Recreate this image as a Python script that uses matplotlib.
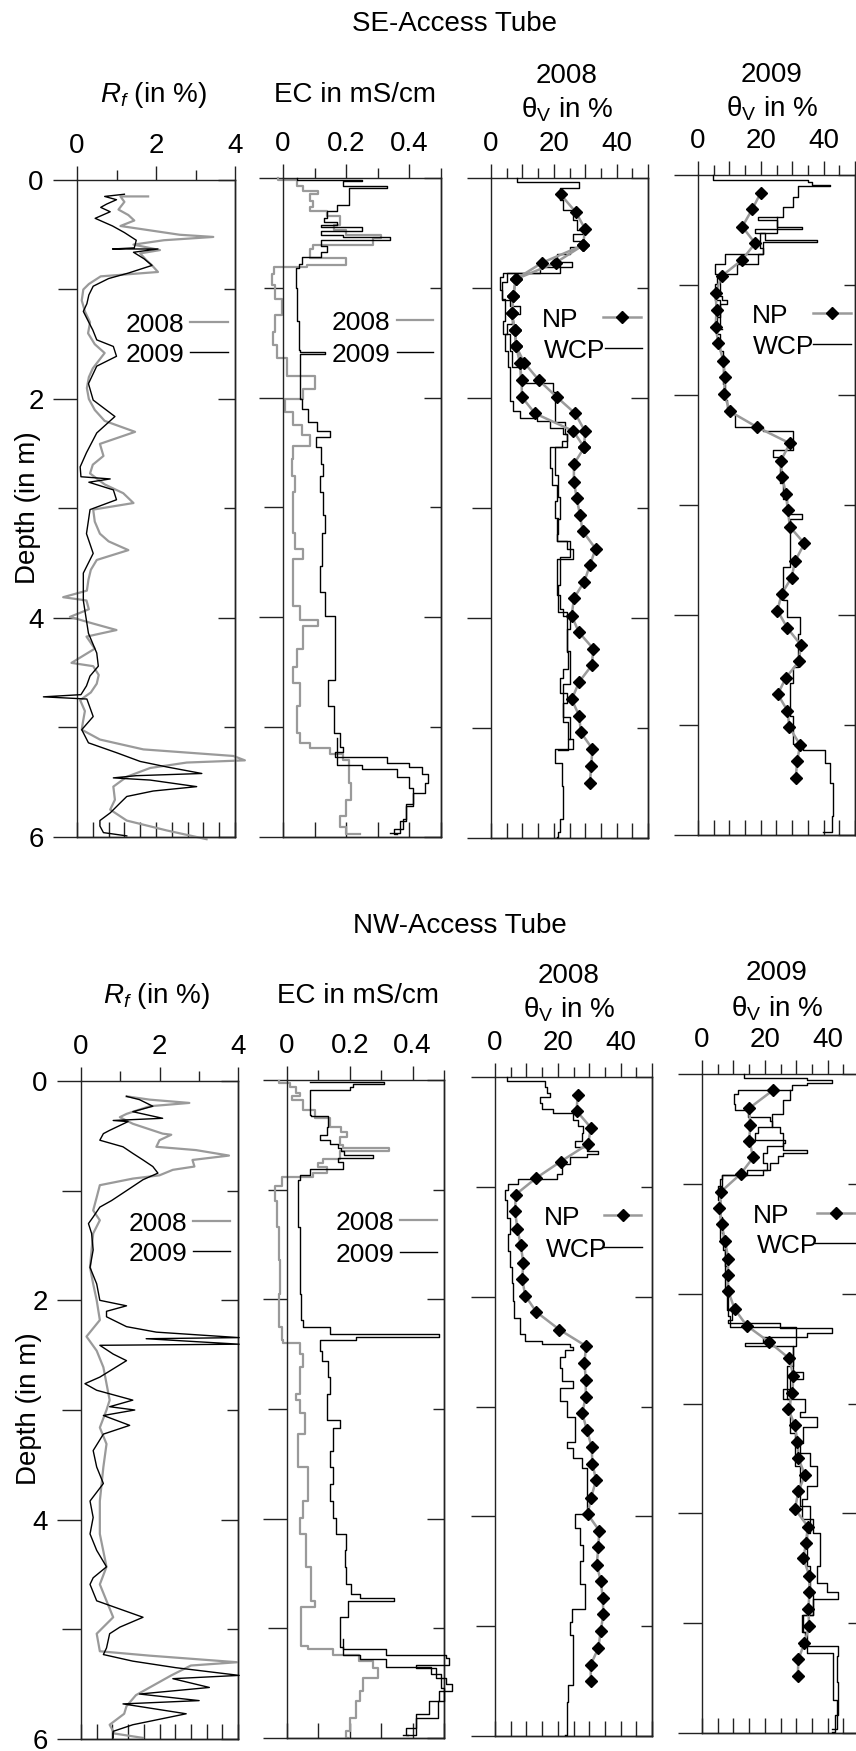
import matplotlib
matplotlib.use("Agg")
import matplotlib.pyplot as plt
from matplotlib.lines import Line2D
import numpy as np

plt.rcParams['font.family'] = ['Liberation Sans', 'DejaVu Sans']
plt.rcParams['mathtext.fontset'] = 'custom'
plt.rcParams['mathtext.rm'] = 'Liberation Sans'
plt.rcParams['mathtext.it'] = 'Liberation Sans:italic'

W, H = 856, 1751
GRAY = '#9a9a9a'

# ---------------- data: (depth in m, value) ----------------
# SE access tube
SE_RF_2008 = [(0.15, 1.80), (0.15, 1.10), (0.20, 1.20), (0.27, 1.05), (0.32, 1.30), (0.37, 1.45), (0.42, 1.10),
              (0.46, 1.85), (0.50, 2.60), (0.52, 3.45), (0.55, 2.20), (0.59, 1.43), (0.64, 2.10), (0.67, 1.60),
              (0.73, 1.75), (0.78, 1.90), (0.84, 2.05), (0.88, 0.60), (0.95, 0.30), (1.00, 0.16), (1.10, 0.12),
              (1.20, 0.20), (1.30, 0.33), (1.40, 0.28), (1.50, 0.45), (1.58, 0.70), (1.65, 0.55), (1.72, 0.40),
              (1.80, 0.30), (1.90, 0.25), (2.00, 0.30), (2.10, 0.45), (2.20, 0.70), (2.30, 1.47), (2.41, 0.58),
              (2.52, 0.67), (2.60, 0.40), (2.68, 0.33), (2.78, 0.70), (2.86, 1.17), (2.95, 1.43), (3.01, 0.41),
              (3.12, 0.45), (3.23, 0.58), (3.30, 0.80), (3.38, 1.30), (3.47, 0.50), (3.56, 0.35), (3.65, 0.29),
              (3.75, 0.25), (3.81, -0.35), (3.84, 0.24), (3.92, 0.30), (3.99, -0.18), (4.05, 0.40), (4.11, 1.00),
              (4.17, 0.24), (4.28, 0.45), (4.41, -0.14), (4.44, 0.41), (4.52, 0.55), (4.60, 0.50), (4.68, 0.35),
              (4.75, 0.08), (4.85, 0.20), (4.95, 0.15), (5.02, 0.12), (5.11, 0.58), (5.20, 1.68), (5.26, 3.96),
              (5.30, 4.25), (5.32, 2.78), (5.37, 1.85), (5.45, 1.26), (5.54, 0.92), (5.66, 0.96), (5.75, 0.84),
              (5.85, 1.26), (5.94, 2.27), (6.02, 3.28)]
SE_RF_2009 = [(0.13, 1.20), (0.15, 0.70), (0.18, 1.00), (0.22, 0.75), (0.25, 0.60), (0.29, 0.84), (0.35, 0.46),
              (0.42, 0.90), (0.48, 1.20), (0.55, 1.50), (0.62, 1.45), (0.63, 0.90), (0.63, 2.05), (0.66, 1.43),
              (0.72, 1.70), (0.78, 1.90), (0.85, 1.30), (0.90, 0.80), (0.97, 0.41), (1.05, 0.30), (1.13, 0.25),
              (1.20, 0.16), (1.30, 0.30), (1.37, 0.40), (1.46, 0.50), (1.52, 0.92), (1.61, 1.00), (1.70, 0.50),
              (1.86, 0.29), (2.01, 0.41), (2.16, 0.96), (2.31, 0.50), (2.49, 0.24), (2.62, 0.08), (2.71, 0.10),
              (2.73, 0.84), (2.76, 0.30), (2.83, 0.92), (2.92, 1.00), (3.01, 0.33), (3.23, 0.24), (3.41, 0.41),
              (3.59, 0.16), (3.84, 0.16), (4.14, 0.29), (4.32, 0.50), (4.44, 0.54), (4.53, 0.33), (4.62, 0.24),
              (4.70, 0.10), (4.72, -0.85), (4.74, 0.25), (4.90, 0.41), (5.02, 0.12), (5.14, 0.29), (5.23, 1.00),
              (5.31, 1.60), (5.36, 2.27), (5.42, 3.16), (5.44, 1.50), (5.46, 0.92), (5.48, 1.85), (5.54, 3.03),
              (5.58, 1.93), (5.63, 1.26), (5.69, 1.09), (5.78, 0.84), (5.85, 0.58), (5.90, 0.58), (5.96, 0.67),
              (5.99, 1.26)]
SE_EC_2008 = [(0.00, -0.015), (0.015, 0.043), (0.076, 0.064), (0.12, 0.11), (0.15, 0.085), (0.21, 0.096),
              (0.26, 0.085), (0.30, 0.138), (0.35, 0.18), (0.43, 0.16), (0.47, 0.20), (0.52, 0.31), (0.55, 0.286),
              (0.61, 0.096), (0.65, 0.085), (0.73, 0.20), (0.79, 0.075), (0.81, -0.03), (0.87, -0.036),
              (0.97, -0.025), (1.10, -0.004), (1.25, -0.025), (1.40, -0.031), (1.52, -0.02), (1.64, 0.012),
              (1.80, 0.10), (1.92, 0.064), (2.01, 0.006), (2.13, 0.033), (2.25, 0.059), (2.34, 0.085),
              (2.44, 0.033), (2.56, 0.027), (2.71, 0.038), (2.86, 0.033), (3.23, 0.038), (3.38, 0.064),
              (3.47, 0.033), (3.84, 0.033), (3.90, 0.054), (4.02, 0.11), (4.08, 0.064), (4.29, 0.043),
              (4.45, 0.033), (4.60, 0.054), (4.81, 0.043), (5.05, 0.054), (5.14, 0.085), (5.19, 0.149),
              (5.24, 0.19), (5.30, 0.21), (5.51, 0.215), (5.66, 0.20), (5.81, 0.18), (5.91, 0.20), (5.97, 0.244)]
SE_EC_2009 = [(0.00, 0.043), (0.02, 0.25), (0.03, 0.19), (0.07, 0.33), (0.09, 0.21), (0.22, 0.21), (0.25, 0.17),
              (0.30, 0.14), (0.36, 0.13), (0.40, 0.17), (0.43, 0.12), (0.45, 0.25), (0.48, 0.12), (0.52, 0.19),
              (0.54, 0.34), (0.56, 0.12), (0.62, 0.14), (0.67, 0.12), (0.72, 0.06), (0.78, 0.05), (0.82, 0.042),
              (1.00, 0.045), (1.30, 0.05), (1.57, 0.053), (1.585, 0.133), (1.60, 0.054), (1.80, 0.055),
              (2.01, 0.06), (2.10, 0.08), (2.22, 0.107), (2.30, 0.15), (2.36, 0.105), (2.45, 0.12), (2.60, 0.125),
              (2.71, 0.117), (2.86, 0.128), (3.07, 0.133), (3.23, 0.122), (3.53, 0.117), (3.77, 0.133),
              (3.99, 0.165), (4.29, 0.165), (4.57, 0.143), (4.81, 0.16), (5.05, 0.18), (5.18, 0.19),
              (5.23, 0.165), (5.27, 0.33), (5.33, 0.40), (5.36, 0.44), (5.43, 0.46), (5.51, 0.45), (5.60, 0.41),
              (5.72, 0.39), (5.84, 0.38), (5.93, 0.35), (5.97, 0.36)]
SE_EC_2009_B = [(5.10, 0.17), (5.30, 0.17), (5.34, 0.25), (5.38, 0.36), (5.45, 0.40), (5.55, 0.41),
                (5.70, 0.39), (5.85, 0.37), (5.96, 0.34)]

SE_NP_2008 = [(0.15, 22.2), (0.31, 27.0), (0.46, 29.9), (0.61, 29.4), (0.77, 20.6), (0.92, 7.9), (1.07, 7.1),
              (1.23, 6.6), (1.38, 7.6), (1.53, 8.0), (1.68, 10.6), (1.84, 15.3), (1.99, 20.9), (2.14, 26.8),
              (2.30, 29.9), (2.45, 29.7), (2.60, 26.4), (2.76, 26.4), (2.91, 27.3), (3.06, 28.3), (3.21, 29.2),
              (3.37, 33.3), (3.52, 31.5), (3.67, 29.7), (3.82, 26.4), (3.98, 25.7), (4.13, 28.0), (4.28, 32.6),
              (4.43, 32.1), (4.58, 28.1), (4.74, 25.7), (4.89, 28.1), (5.04, 28.6), (5.19, 32.3), (5.35, 31.9),
              (5.50, 31.5)]
SE_NP_2008_B = [(0.61, 29.4), (0.77, 16.3), (0.92, 7.9), (1.07, 7.1), (1.23, 6.6), (1.38, 7.6), (1.53, 8.0),
                (1.68, 9.2), (1.84, 9.8), (1.99, 9.8), (2.14, 14.0), (2.30, 26.2), (2.45, 29.7)]
SE_WCP_2008 = [(0.00, 8.4), (0.04, 28.1), (0.09, 22.0), (0.20, 23.0), (0.29, 26.2), (0.38, 27.3), (0.47, 29.4),
               (0.51, 26.2), (0.57, 29.9), (0.63, 25.2), (0.69, 20.9), (0.76, 25.7), (0.81, 15.6), (0.86, 3.9),
               (0.90, 2.9), (1.02, 3.4), (1.11, 6.1), (1.16, 9.2), (1.24, 6.6), (1.33, 5.0), (1.42, 4.5),
               (1.57, 5.5), (1.72, 6.1), (1.88, 6.1), (2.03, 7.1), (2.12, 9.2), (2.18, 14.5), (2.21, 18.8),
               (2.27, 23.0), (2.33, 24.1), (2.39, 22.5), (2.45, 18.8), (2.64, 19.3), (2.79, 20.9), (2.94, 20.4),
               (3.09, 21.4), (3.24, 20.9), (3.30, 24.1), (3.37, 26.2), (3.46, 20.9), (3.61, 20.9), (3.79, 22.0),
               (3.92, 23.0), (3.98, 25.2), (4.10, 24.1), (4.31, 24.6), (4.46, 23.0), (4.55, 22.0), (4.68, 24.1),
               (4.77, 23.0), (4.95, 24.6), (5.10, 26.2), (5.19, 20.4), (5.32, 22.5), (5.53, 23.0), (5.68, 23.0),
               (5.83, 22.0), (5.95, 21.4), (5.99, 20.9)]
SE_WCP_2008_B = [(0.80, 22.0), (0.86, 5.0), (0.95, 3.4), (1.10, 4.5), (1.30, 3.9), (1.42, 6.1), (1.57, 6.6),
                 (1.72, 9.2), (1.86, 19.9), (1.95, 20.4), (2.10, 20.4), (2.22, 23.6), (2.33, 24.1), (2.45, 20.4),
                 (2.70, 21.4), (2.90, 22.0), (3.10, 20.9), (3.30, 25.2), (3.45, 22.0), (3.70, 21.4), (3.95, 24.1),
                 (4.30, 25.2), (4.60, 23.0), (4.90, 25.2), (5.10, 24.6), (5.20, 21.4)]

SE_NP_2009 = [(0.16, 20.0), (0.31, 17.3), (0.47, 14.1), (0.62, 18.2), (0.77, 14.1), (0.92, 7.5), (1.07, 5.6),
              (1.23, 5.9), (1.38, 5.6), (1.53, 6.5), (1.69, 8.1), (1.84, 8.6), (1.99, 8.3), (2.15, 10.2),
              (2.29, 18.7), (2.44, 29.3), (2.60, 26.3), (2.75, 26.9), (2.90, 28.0), (3.05, 28.6), (3.20, 29.3),
              (3.35, 33.9), (3.51, 30.9), (3.66, 29.8), (3.81, 26.6), (3.96, 25.3), (4.12, 28.5), (4.27, 32.7),
              (4.42, 32.2), (4.57, 28.0), (4.72, 25.4), (4.87, 28.5), (5.02, 29.1), (5.18, 32.5), (5.33, 31.6),
              (5.48, 31.1)]
SE_WCP_2009 = [(0.00, 4.9), (0.046, 35.1), (0.06, 36.2), (0.09, 42.0), (0.10, 32.0), (0.20, 30.4), (0.29, 27.2),
               (0.38, 19.2), (0.41, 25.1), (0.47, 33.0), (0.49, 18.2), (0.53, 21.3), (0.59, 37.8), (0.61, 20.8),
               (0.72, 8.6), (0.81, 5.4), (0.90, 5.9), (0.99, 5.4), (1.14, 7.0), (1.29, 5.9), (1.45, 7.0),
               (1.60, 8.1), (1.75, 8.1), (1.90, 8.6), (2.05, 9.1), (2.17, 11.8), (2.29, 20.8), (2.33, 30.4),
               (2.44, 30.4), (2.50, 24.0), (2.56, 26.1), (2.80, 27.2), (2.95, 28.2), (3.08, 33.0), (3.13, 29.3),
               (3.41, 29.3), (3.56, 27.2), (3.86, 28.2), (4.02, 32.5), (4.17, 32.0), (4.47, 30.4), (4.62, 29.3),
               (4.92, 30.4), (5.17, 33.5), (5.23, 40.4), (5.35, 42.0), (5.53, 43.1), (5.83, 42.6), (5.97, 39.9)]
SE_WCP_2009_B = [(0.38, 25.1), (0.53, 19.7), (0.66, 20.8), (0.72, 19.2), (0.81, 12.3), (0.90, 7.0),
                 (1.10, 7.5), (1.14, 9.1), (1.17, 7.0), (1.40, 7.5)]

# NW access tube
NW_RF_2008 = [(0.14, 1.16), (0.17, 1.75), (0.20, 2.76), (0.23, 1.75), (0.30, 1.16), (0.33, 0.99), (0.39, 1.32),
              (0.48, 2.08), (0.49, 2.30), (0.54, 2.00), (0.60, 1.92), (0.63, 2.93), (0.68, 3.77), (0.72, 2.84),
              (0.78, 2.89), (0.81, 2.34), (0.86, 2.00), (0.89, 1.32), (0.95, 0.48), (1.06, 0.40), (1.18, 0.31),
              (1.27, 0.48), (1.39, 0.31), (1.54, 0.27), (1.70, 0.23), (1.85, 0.31), (2.00, 0.40), (2.18, 0.48),
              (2.33, 0.14), (2.46, 0.40), (2.61, 0.57), (2.91, 0.73), (3.00, 0.65), (3.16, 0.48), (3.31, 0.65),
              (3.52, 0.57), (3.83, 0.48), (4.13, 0.48), (4.43, 0.65), (4.59, 0.48), (4.74, 0.65), (4.89, 0.82),
              (5.04, 0.40), (5.20, 0.48), (5.24, 1.75), (5.30, 3.98), (5.33, 2.80), (5.42, 2.30), (5.50, 1.90),
              (5.60, 1.40), (5.70, 1.16), (5.77, 1.10), (5.87, 0.73), (5.95, 0.85), (5.99, 1.58)]
NW_RF_2009 = [(0.14, 1.16), (0.17, 1.49), (0.23, 1.83), (0.28, 1.32), (0.34, 2.08), (0.36, 0.82), (0.37, 1.20),
              (0.45, 0.73), (0.48, 0.57), (0.54, 0.48), (0.60, 1.07), (0.66, 1.32), (0.72, 1.58), (0.78, 1.83),
              (0.84, 1.96), (0.90, 1.58), (1.00, 1.16), (1.09, 0.78), (1.15, 0.48), (1.24, 0.31), (1.30, 0.19),
              (1.39, 0.27), (1.54, 0.31), (1.70, 0.23), (1.85, 0.40), (2.00, 0.48), (2.05, 1.16), (2.10, 0.65),
              (2.15, 0.65), (2.24, 1.16), (2.29, 1.92), (2.34, 4.03), (2.35, 1.66), (2.40, 4.03), (2.41, 0.48),
              (2.49, 0.82), (2.55, 1.16), (2.70, 0.48), (2.76, 0.10), (2.82, 0.40), (2.91, 1.32), (2.97, 0.73),
              (3.00, 1.37), (3.05, 0.57), (3.14, 1.24), (3.22, 0.57), (3.37, 0.31), (3.52, 0.40), (3.67, 0.57),
              (3.83, 0.23), (3.98, 0.31), (4.13, 0.23), (4.28, 0.40), (4.43, 0.65), (4.53, 0.31), (4.59, 0.23),
              (4.74, 0.40), (4.89, 1.58), (4.98, 0.99), (5.04, 0.73), (5.17, 0.65), (5.23, 0.57), (5.29, 1.32),
              (5.35, 2.42), (5.42, 4.03), (5.45, 2.34), (5.53, 3.27), (5.59, 1.49), (5.65, 3.01), (5.68, 1.07),
              (5.77, 2.68), (5.87, 1.32), (5.93, 0.82), (5.99, 0.82)]
NW_EC_2008 = [(0.006, -0.027), (0.03, 0.01), (0.06, 0.03), (0.12, 0.04), (0.15, 0.015), (0.18, 0.05),
              (0.27, 0.089), (0.35, 0.136), (0.43, 0.173), (0.47, 0.19), (0.52, 0.168), (0.59, 0.178),
              (0.62, 0.326), (0.65, 0.168), (0.72, 0.115), (0.76, 0.10), (0.79, 0.126), (0.85, 0.083),
              (0.88, -0.017), (0.97, -0.038), (1.10, -0.033), (1.34, -0.027), (1.64, -0.022), (1.95, -0.027),
              (2.25, -0.017), (2.37, -0.012), (2.40, 0.041), (2.50, 0.05), (2.62, 0.04), (2.86, 0.03),
              (2.92, 0.041), (3.04, 0.057), (3.23, 0.036), (3.53, 0.068), (3.84, 0.052), (3.99, 0.041),
              (4.14, 0.062), (4.44, 0.078), (4.75, 0.089), (4.81, 0.046), (5.05, 0.046), (5.16, 0.068),
              (5.19, 0.147), (5.24, 0.23), (5.30, 0.273), (5.36, 0.289), (5.45, 0.242), (5.57, 0.231),
              (5.66, 0.22), (5.82, 0.20), (5.94, 0.189), (6.00, 0.194)]
NW_EC_2009 = [(0.015, 0.073), (0.02, 0.31), (0.04, 0.21), (0.06, 0.20), (0.09, 0.073), (0.32, 0.078),
              (0.33, 0.13), (0.43, 0.126), (0.50, 0.104), (0.55, 0.136), (0.58, 0.162), (0.62, 0.173),
              (0.65, 0.18), (0.68, 0.273), (0.71, 0.162), (0.75, 0.178), (0.81, 0.073), (0.87, 0.041),
              (0.91, 0.036), (1.34, 0.041), (1.95, 0.046), (2.19, 0.052), (2.25, 0.136), (2.32, 0.484),
              (2.34, 0.22), (2.37, 0.104), (2.47, 0.11), (2.56, 0.13), (2.71, 0.136), (2.86, 0.126),
              (3.10, 0.168), (3.17, 0.147), (3.38, 0.136), (3.53, 0.147), (3.68, 0.136), (3.84, 0.147),
              (3.99, 0.157), (4.14, 0.189), (4.29, 0.184), (4.44, 0.189), (4.60, 0.205), (4.69, 0.231),
              (4.72, 0.342), (4.75, 0.194), (4.90, 0.168), (5.05, 0.168), (5.17, 0.178), (5.19, 0.315),
              (5.24, 0.505), (5.27, 0.516), (5.33, 0.41), (5.36, 0.474), (5.45, 0.505), (5.51, 0.526),
              (5.57, 0.484), (5.66, 0.453), (5.78, 0.41), (5.91, 0.379), (5.97, 0.384)]
NW_EC_2009_B = [(5.10, 0.178), (5.24, 0.231), (5.28, 0.315), (5.35, 0.46), (5.42, 0.49), (5.54, 0.50),
                (5.66, 0.48), (5.82, 0.41), (5.97, 0.368)]

NW_NP_2008 = [(0.16, 26.3), (0.31, 26.0), (0.46, 30.5), (0.61, 29.7), (0.77, 20.9), (0.92, 13.1), (1.07, 6.6),
              (1.22, 6.4), (1.38, 7.1), (1.53, 8.2), (1.69, 9.0), (1.84, 8.7), (1.99, 9.6), (2.14, 13.2),
              (2.30, 20.5), (2.45, 29.0), (2.60, 28.5), (2.76, 28.9), (2.91, 28.9), (3.06, 27.8), (3.21, 29.2),
              (3.37, 30.8), (3.52, 31.0), (3.67, 32.2), (3.83, 30.6), (3.98, 29.5), (4.13, 33.2), (4.28, 32.9),
              (4.44, 32.4), (4.59, 33.7), (4.74, 34.3), (4.89, 34.5), (5.04, 33.7), (5.20, 32.9), (5.35, 30.5),
              (5.50, 30.5)]
NW_WCP_2008 = [(0.00, 3.7), (0.04, 15.9), (0.09, 16.5), (0.15, 17.5), (0.18, 14.3), (0.24, 14.9), (0.29, 18.6),
               (0.33, 24.9), (0.39, 26.5), (0.45, 28.1), (0.51, 27.6), (0.58, 25.5), (0.64, 29.2), (0.67, 32.9),
               (0.70, 29.2), (0.73, 23.9), (0.79, 21.2), (0.88, 19.6), (0.93, 7.4), (0.97, 4.2), (1.03, 3.2),
               (1.12, 3.7), (1.28, 4.8), (1.43, 4.2), (1.58, 4.8), (1.73, 5.3), (1.88, 5.8), (2.04, 6.0),
               (2.19, 8.0), (2.34, 9.6), (2.40, 14.9), (2.43, 23.9), (2.46, 24.9), (2.49, 22.3), (2.55, 20.7),
               (2.65, 21.2), (2.77, 24.9), (2.83, 20.7), (2.95, 22.8), (3.10, 25.5), (3.32, 22.8), (3.38, 24.9),
               (3.47, 27.6), (3.56, 29.2), (3.86, 29.2), (3.98, 25.5), (4.11, 27.1), (4.26, 28.1), (4.41, 27.1),
               (4.62, 28.7), (4.78, 28.7), (4.84, 24.4), (4.96, 23.9), (5.08, 24.9), (5.39, 24.9), (5.54, 23.4),
               (5.69, 22.8), (5.84, 22.8), (5.99, 22.3)]

NW_NP_2009 = [(0.15, 22.5), (0.31, 15.1), (0.46, 15.3), (0.61, 15.1), (0.76, 16.3), (0.91, 12.3), (1.07, 6.1),
              (1.22, 5.5), (1.37, 6.3), (1.52, 7.3), (1.68, 8.4), (1.83, 8.2), (1.98, 8.4), (2.14, 10.4),
              (2.29, 14.2), (2.44, 21.4), (2.59, 27.8), (2.75, 29.1), (2.90, 28.8), (3.05, 27.5), (3.20, 29.6),
              (3.35, 30.4), (3.50, 30.7), (3.65, 32.8), (3.80, 30.7), (3.96, 29.6), (4.12, 33.7), (4.27, 33.1),
              (4.41, 32.3), (4.57, 34.2), (4.72, 34.2), (4.87, 33.9), (5.03, 34.1), (5.18, 32.6), (5.33, 30.7),
              (5.48, 30.5)]
NW_WCP_2009 = [(0.00, 13.5), (0.04, 33.3), (0.055, 41.3), (0.085, 33.3), (0.10, 28.6), (0.145, 11.6),
               (0.18, 10.2), (0.27, 10.5), (0.33, 14.8), (0.39, 21.7), (0.43, 22.2), (0.48, 17.9), (0.54, 16.9),
               (0.60, 26.4), (0.63, 25.9), (0.69, 33.3), (0.72, 25.9), (0.75, 24.3), (0.81, 21.7), (0.87, 19.5),
               (0.92, 6.3), (0.96, 5.7), (1.02, 5.2), (1.15, 5.7), (1.30, 6.3), (1.45, 6.8), (1.60, 7.3),
               (1.75, 7.9), (2.05, 7.9), (2.15, 9.4), (2.24, 8.4), (2.27, 24.8), (2.31, 41.3), (2.36, 33.3),
               (2.39, 19.5), (2.45, 13.7), (2.48, 29.1), (2.66, 29.1), (2.71, 32.3), (2.78, 28.0), (2.87, 25.9),
               (2.96, 32.8), (3.08, 31.2), (3.12, 36.5), (3.21, 32.3), (3.36, 31.2), (3.45, 34.4), (3.57, 36.5),
               (3.75, 33.3), (3.87, 31.7), (4.05, 35.5), (4.18, 37.6), (4.48, 36.5), (4.63, 39.7), (4.72, 43.4),
               (4.78, 35.5), (4.93, 31.7), (5.08, 32.8), (5.18, 31.2), (5.21, 43.4), (5.30, 42.9), (5.54, 43.4),
               (5.84, 42.4), (5.99, 41.3)]
NW_WCP_2009_B = [(0.145, 28.0), (0.24, 25.9), (0.36, 22.2), (0.48, 24.8), (0.54, 25.9), (0.66, 20.6),
                 (0.72, 19.5), (0.81, 20.6), (0.87, 14.2), (0.92, 6.3), (1.02, 5.8), (1.50, 7.3), (2.00, 8.4),
                 (2.20, 9.0), (2.30, 30.0), (2.48, 29.1), (2.66, 27.0), (2.96, 28.0), (3.27, 29.6), (3.57, 31.2),
                 (3.93, 34.4), (4.18, 33.3), (4.48, 34.4), (4.72, 35.5), (4.93, 32.3), (5.08, 33.3), (5.27, 41.8),
                 (5.70, 42.9), (5.96, 41.3)]

# axis tick settings per panel kind
RF_LIM, EC_LIM, TH_LIM = (0, 4), (0, 0.5), (0, 50)
RF_TOP, RF_TOP_MINOR, RF_TOP_LAB = [0, 2, 4], [1, 3], ['0', '2', '4']
EC_TOP, EC_TOP_MINOR, EC_TOP_LAB = [0, 0.2, 0.4], [0.1, 0.3, 0.5], ['0', '0.2', '0.4']
TH_TOP, TH_TOP_MINOR, TH_TOP_LAB = [0, 10, 20, 30, 40, 50], [5, 15, 25, 35, 45], ['0', '', '20', '', '40', '']
RF_BOT = [0, 0.4, 0.8, 1.2, 1.6, 2.0, 2.4, 2.8, 3.2, 3.6, 4.0]
EC_BOT = [0, 0.1, 0.2, 0.3, 0.4, 0.5]
TH_BOT = [0, 5, 10, 15, 20, 25, 30, 35, 40, 45, 50]


def fx(x):
    return x / W


def fy(y):
    return 1 - y / H


def xy(pairs):
    a = np.array(pairs, dtype=float)
    return a[:, 1], a[:, 0]


def make_ax(fig, left, right, top, bottom):
    return fig.add_axes([fx(left), fy(bottom), (right - left) / W, (bottom - top) / H])


def style_ax(ax, lim, top_major, top_minor, top_lab, bot_ticks, ylabels=False):
    ax.set_xlim(*lim)
    ax.set_ylim(6, 0)
    for s in ax.spines.values():
        s.set_linewidth(1.0)
        s.set_color('#222222')
    ax.xaxis.set_ticks_position('top')
    ax.set_xticks(top_major)
    ax.set_xticklabels(top_lab)
    ax.set_xticks(top_minor, minor=True)
    ax.tick_params(axis='x', which='both', direction='out', labelsize=20, pad=5, width=1, color='#222222')
    ax.tick_params(axis='x', which='major', length=10)
    ax.tick_params(axis='x', which='minor', length=7)
    ax.yaxis.set_ticks_position('left')
    ax.set_yticks([0, 2, 4, 6])
    ax.set_yticks([1, 3, 5], minor=True)
    ax.tick_params(axis='y', which='both', direction='out', labelsize=20, pad=7, width=1, color='#222222')
    ax.tick_params(axis='y', which='major', length=17)
    ax.tick_params(axis='y', which='minor', length=14)
    if not ylabels:
        ax.set_yticklabels([])
    sb = ax.secondary_xaxis('bottom')
    sb.set_xticks(bot_ticks)
    sb.tick_params(direction='in', length=11, width=1, labelbottom=False, color='#222222')
    sb.spines['bottom'].set_linewidth(1.0)
    sr = ax.secondary_yaxis('right')
    sr.set_yticks([0, 2, 4, 6])
    sr.set_yticks([1, 3, 5], minor=True)
    sr.tick_params(which='both', direction='in', width=1, labelright=False, color='#222222')
    sr.tick_params(which='major', length=12)
    sr.tick_params(which='minor', length=8)
    sr.spines['right'].set_linewidth(1.0)


def profile(ax, pairs, color, lw, steps=False, z=2):
    v, d = xy(pairs)
    ax.plot(v, d, color=color, lw=lw, clip_on=False, zorder=z,
            drawstyle='steps-pre' if steps else 'default')


def np_profile(ax, pairs):
    v, d = xy(pairs)
    ax.plot(v, d, color=GRAY, lw=1.8, marker='D', ms=6, mfc='black', mec='black',
            clip_on=False, zorder=4)


def legend_row(fig, label, xt, x0, x1, y, color, lw, marker=False):
    # text glyphs are centred a bit lower than the bbox centre
    fig.text(fx(xt), fy(y + 3), label, fontsize=19, ha='left', va='center')
    fig.add_artist(Line2D([fx(x0), fx(x1)], [fy(y), fy(y)], color=color, lw=lw,
                          transform=fig.transFigure))
    if marker:
        fig.add_artist(Line2D([fx((x0 + x1) / 2)], [fy(y)], marker='D', ms=6, color='black',
                              lw=0, transform=fig.transFigure))


def title(fig, x, y, s):
    fig.text(fx(x), fy(y + 3), s, fontsize=20, ha='center', va='center')


def draw_group(fig, g):
    a1 = make_ax(fig, *g['pos'][0])
    a2 = make_ax(fig, *g['pos'][1])
    a3 = make_ax(fig, *g['pos'][2])
    a4 = make_ax(fig, *g['pos'][3])
    style_ax(a1, RF_LIM, RF_TOP, RF_TOP_MINOR, RF_TOP_LAB, RF_BOT, ylabels=True)
    style_ax(a2, EC_LIM, EC_TOP, EC_TOP_MINOR, EC_TOP_LAB, EC_BOT)
    style_ax(a3, TH_LIM, TH_TOP, TH_TOP_MINOR, TH_TOP_LAB, TH_BOT)
    style_ax(a4, TH_LIM, TH_TOP, TH_TOP_MINOR, TH_TOP_LAB, TH_BOT)

    profile(a1, g['rf08'], GRAY, 1.6, z=2)
    profile(a1, g['rf09'], 'black', 1.0, z=3)
    profile(a2, g['ec08'], GRAY, 1.6, steps=True, z=2)
    for tr in g['ec09']:
        profile(a2, tr, 'black', 1.0, steps=True, z=3)
    for tr in g['wcp08']:
        profile(a3, tr, 'black', 1.0, steps=True, z=3)
    for tr in g['np08']:
        np_profile(a3, tr)
    for tr in g['wcp09']:
        profile(a4, tr, 'black', 1.0, steps=True, z=3)
    np_profile(a4, g['np09'])


fig = plt.figure(figsize=(W / 100, H / 100), dpi=100)

groups = [
    dict(pos=[(77, 235, 180, 837), (283, 441, 178, 837), (491, 648, 178, 838), (698, 855, 175, 835)],
         rf08=SE_RF_2008, rf09=SE_RF_2009, ec08=SE_EC_2008, ec09=[SE_EC_2009, SE_EC_2009_B],
         np08=[SE_NP_2008, SE_NP_2008_B], wcp08=[SE_WCP_2008, SE_WCP_2008_B],
         np09=SE_NP_2009, wcp09=[SE_WCP_2009, SE_WCP_2009_B]),
    dict(pos=[(81, 238, 1081, 1739), (287, 444, 1080, 1738), (495, 652, 1077, 1736), (702, 859, 1074, 1733)],
         rf08=NW_RF_2008, rf09=NW_RF_2009, ec08=NW_EC_2008, ec09=[NW_EC_2009, NW_EC_2009_B],
         np08=[NW_NP_2008], wcp08=[NW_WCP_2008],
         np09=NW_NP_2009, wcp09=[NW_WCP_2009, NW_WCP_2009_B]),
]
for g in groups:
    draw_group(fig, g)

# titles
theta_lab = 'θ$_\\mathrm{V}$ in %'
rf_lab = '$R_f$ (in %)'
title(fig, 455, 21, 'SE-Access Tube')
title(fig, 153, 92, rf_lab)
title(fig, 355, 92, 'EC in mS/cm')
title(fig, 567, 73, '2008')
title(fig, 567, 107, theta_lab)
title(fig, 772, 72, '2009')
title(fig, 772, 106, theta_lab)
fig.text(fx(28), fy(508), 'Depth (in m)', fontsize=20, rotation=90, ha='center', va='center')

title(fig, 460, 923, 'NW-Access Tube')
title(fig, 156, 993, rf_lab)
title(fig, 358, 993, 'EC in mS/cm')
title(fig, 569, 973, '2008')
title(fig, 569, 1007, theta_lab)
title(fig, 777, 970, '2009')
title(fig, 777, 1006, theta_lab)
fig.text(fx(29), fy(1409), 'Depth (in m)', fontsize=20, rotation=90, ha='center', va='center')

# legends
legend_row(fig, '2008', 126, 190, 228, 322, GRAY, 1.6)
legend_row(fig, '2009', 126, 190, 228, 352, 'black', 1.0)
legend_row(fig, '2008', 332, 397, 433, 320, GRAY, 1.6)
legend_row(fig, '2009', 332, 397, 433, 352, 'black', 1.0)
legend_row(fig, 'NP', 542, 603, 641, 317, GRAY, 1.8, marker=True)
legend_row(fig, 'WCP', 544, 605, 642, 348, 'black', 1.0)
legend_row(fig, 'NP', 752, 813, 851, 313, GRAY, 1.8, marker=True)
legend_row(fig, 'WCP', 753, 813, 851, 344, 'black', 1.0)

legend_row(fig, '2008', 129, 193, 230, 1221, GRAY, 1.6)
legend_row(fig, '2009', 129, 193, 230, 1251, 'black', 1.0)
legend_row(fig, '2008', 336, 400, 437, 1220, GRAY, 1.6)
legend_row(fig, '2009', 336, 400, 437, 1252, 'black', 1.0)
legend_row(fig, 'NP', 544, 604, 641, 1215, GRAY, 1.8, marker=True)
legend_row(fig, 'WCP', 546, 603, 642, 1247, 'black', 1.0)
legend_row(fig, 'NP', 753, 817, 855, 1213, GRAY, 1.8, marker=True)
legend_row(fig, 'WCP', 757, 815, 856, 1243, 'black', 1.0)

fig.savefig('out.png', dpi=100)
